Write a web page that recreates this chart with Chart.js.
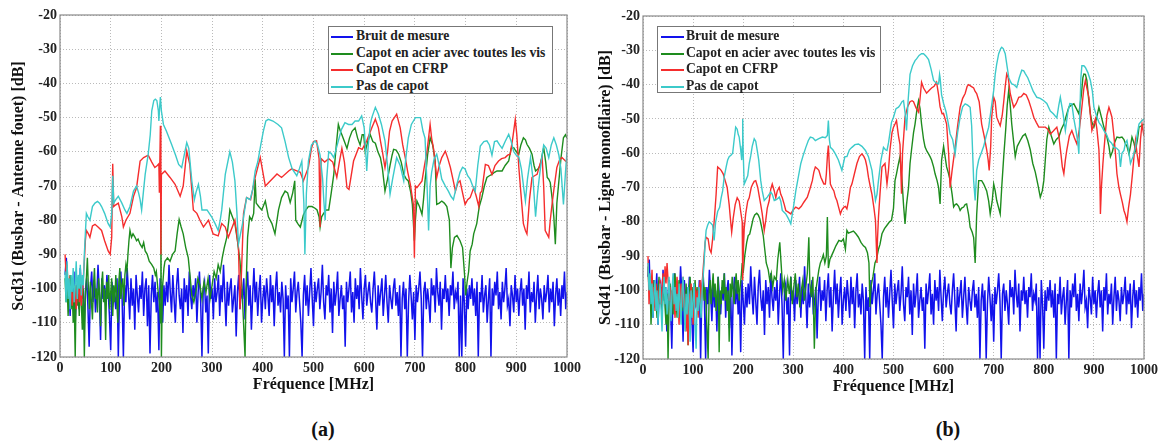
<!DOCTYPE html>
<html>
<head>
<meta charset="utf-8">
<script src="https://cdn.jsdelivr.net/npm/chart.js@4.4.1/dist/chart.umd.min.js"></script>
<style>
  body { margin: 0; background: #fff; width: 1166px; height: 441px; position: relative; overflow: hidden; }
  canvas { position: absolute; top: 0; }
  #graphA { left: 0; }
  #graphB { left: 585px; }
  .legende {
    position: absolute; background: #fff; border: 1px solid #777;
    font: bold 13.6px "Liberation Serif", "DejaVu Serif", serif; color: #222;
    box-sizing: border-box; padding-top: 1px;
  }
  .legende div { height: 16.6px; line-height: 16.6px; white-space: nowrap; position: relative; padding-left: 27px; }
  .legende span { position: absolute; left: 2px; top: 8px; width: 22px; height: 2px; }
  .legende-b div { padding-left: 28px; }
  .legende-b span { left: 3px; width: 23px; }
  .sous-titre { position: absolute; top: 418px; font: bold 20px "Liberation Serif", serif; color: #111; transform: translateX(-50%); }
</style>
</head>
<body>
<canvas id="graphA" width="585" height="400"></canvas>
<canvas id="graphB" width="577" height="400"></canvas>
<div class="legende" id="legendeA" style="left:328px; top:26px; width:225px; height:68px;"></div>
<div class="legende legende-b" id="legendeB" style="left:657px; top:26px; width:224px; height:67px;"></div>
<div class="sous-titre" style="left:323px;">(a)</div>
<div class="sous-titre" style="left:948px;">(b)</div>
<script>
// noms des courbes
const nomsSeries = ['Bruit de mesure', 'Capot en acier avec toutes les vis', 'Capot en CFRP', 'Pas de capot'];
const couleurs = ['#1212ec', '#1e8c1e', '#f52d2d', '#3ccaca'];

// bruit de mesure (même mesure pour les deux graphes), pas de 2.5 MHz à partir de 10 MHz
const bruitDebut = 10;
const bruitPas = 2.5;
const bruit = [
  -96,-91,-104,-99,-108,-97,-102,-95,-110,-100,-98,-106,-94,-103,-99,-112,-101,-97,-105,-117,
  -100,-95,-104,-98,-107,-102,-93,-101,-115,-97,-103,-99,-105,-96,-101,-108,-118,-98,-104,-102,
  -106,-97,-120,-100,-95,-103,-120,-99,-104,-94,-101,-109,-97,-105,-100,-112,-96,-102,-107,-99,
  -103,-95,-108,-100,-97,-111,-99,-119,-102,-96,-104,-98,-107,-101,-118,-97,-103,-110,-99,-105,
  -98,-104,-93,-101,-107,-96,-103,-110,-99,-94,-102,-106,-100,-113,-97,-104,-99,-108,-95,-102,
  -106,-99,-103,-97,-110,-101,-95,-104,-120,-100,-98,-107,-102,-119,-96,-103,-100,-109,-97,-104,
  -101,-96,-108,-99,-104,-93,-102,-111,-98,-105,-100,-97,-107,-103,-99,-114,-101,-96,-106,-100,
  -103,-97,-109,-100,-95,-105,-99,-112,-102,-94,-104,-98,-108,-101,-96,-110,-103,-99,-106,-97,
  -102,-108,-96,-104,-99,-111,-100,-95,-105,-101,-107,-98,-103,-120,-99,-106,-102,-120,-97,-104,
  -100,-95,-107,-101,-98,-104,-110,-120,-102,-96,-105,-99,-108,-101,-94,-103,-111,-98,-104,-100,
  -97,-106,-101,-93,-104,-109,-99,-102,-96,-107,-100,-113,-98,-105,-101,-95,-108,-103,-99,-106,
  -102,-117,-98,-104,-100,-95,-107,-101,-110,-97,-103,-99,-106,-94,-102,-109,-100,-96,-105,-101,
  -98,-104,-107,-100,-95,-103,-112,-99,-105,-101,-97,-108,-102,-96,-104,-110,-99,-103,-106,-100,
  -97,-105,-101,-108,-99,-120,-103,-98,-106,-100,-120,-104,-96,-102,-109,-101,-115,-99,-104,-100,
  -95,-103,-120,-101,-98,-106,-100,-104,-110,-97,-102,-99,-107,-94,-101,-105,-98,-112,-100,-103,
  -96,-104,-100,-108,-99,-102,-95,-106,-101,-103,-98,-120,-102,-120,-97,-104,-117,-100,-106,-99,
  -103,-97,-105,-100,-108,-98,-120,-101,-104,-96,-107,-102,-99,-110,-103,-97,-120,-100,-105,-98,
  -102,-95,-106,-101,-109,-98,-104,-100,-94,-105,-103,-111,-99,-102,-107,-96,-104,-100,-108,-101,
  -97,-105,-100,-112,-99,-103,-95,-107,-101,-104,-98,-110,-102,-96,-106,-100,-103,-109,-99,-104,
  -101,-96,-107,-100,-104,-98,-111,-102,-97,-105,-100,-108,-99,-103,-95,-106,-101
];

// (a) Scd31 - [fréquence MHz, dB]
const acierA = [
  [10,-97],[12,-104],[14,-99],[16,-108],[18,-101],[20,-96],[22,-106],[24,-100],[26,-110],[28,-103],[30,-120],[32,-99],[34,-105],[36,-101],[38,-108],[40,-98],[42,-104],[44,-112],[46,-100],[48,-120],
  [50,-103],[52,-97],[54,-91],[56,-100],[58,-106],[60,-98],[62,-104],[64,-109],[66,-99],[68,-94],[70,-103],[72,-100],[74,-107],[76,-97],[78,-102],[80,-111],[82,-99],[84,-95],[86,-104],[88,-100],
  [90,-115],[92,-98],[94,-103],[96,-96],[98,-106],[100,-101],[102,-97],[104,-108],[106,-99],[108,-104],[110,-96],[112,-102],[114,-110],[116,-98],[118,-94],[120,-103],[122,-99],[124,-97],[126,-105],[128,-96],
  [130,-93],[132,-95],[134,-90],[136,-86],[138,-83],[141,-85],[144,-84],[148,-85],[151,-86],[154,-85.5],[158,-87],[162,-88],[165,-86.5],[168,-89],[172,-90],[176,-92],[181,-93],[185,-94],[188,-96],[190,-95],
  [193,-100],[196,-104],[198,-110],[199,-75],[200,-120],[202,-100],[205,-94],[207,-92],[212,-91],[217,-92],[222,-90],[227,-89],[231,-84],[235,-79.8],[239,-82],[243,-84],[248,-88],[253,-91],[257,-97],[260,-102],
  [264,-104],[268,-101],[272,-97],[276,-99],[280,-103],[284,-98],[288,-101],[292,-97],[296,-103],[300,-99],[304,-95],[308,-97],[312,-93],[316,-95],[320,-91],[324,-88],[329,-85],[333,-80],[335,-77],[340,-79],
  [345,-81],[350,-86],[355,-92],[359,-100],[362,-110],[365,-120],[367,-100],[370,-85],[374,-79],[378,-80],[382,-78],[385,-68],[387,-75],[392,-76],[398,-77],[405,-74.4],[411,-79],[418,-81],[424,-84],[431,-77],
  [437,-73.4],[444,-71.5],[449,-72],[454,-74.8],[459,-72],[463,-68.5],[465,-80],[469,-81],[474,-82],[480,-78.5],[485,-77],[490,-76],[497,-76],[503,-76.5],[507,-77],[511,-79],[513,-82],[516,-79],[520,-78],[525,-77],
  [530,-77],[535,-72],[540,-66.6],[545,-58],[549,-52],[553,-54],[556,-55],[561,-57],[566,-59],[571,-56],[576,-54],[582,-53],[587,-56],[592,-58],[596,-55],[599,-55],[602,-60],[607,-57],[612,-55],[617,-57],
  [622,-57.5],[627,-60],[632,-61.7],[636,-65],[641,-71.5],[646,-68],[651,-64],[655,-61],[658,-59.3],[663,-59.5],[668,-60.7],[673,-63],[678,-66.6],[683,-68],[687,-68.5],[692,-72],[695,-75.4],[699,-86],[701,-80],[704,-74.4],
  [709,-76],[714,-78.3],[717,-74],[720,-68.5],[725,-61],[730,-55.9],[735,-58],[740,-62.7],[743,-75.4],[748,-75],[753,-74.4],[758,-75],[763,-76],[768,-80],[771,-94],[774,-88],[778,-85],[783,-84.5],[789,-86],[794,-88],
  [798,-96],[800,-102],[803,-98],[806,-95],[809,-89],[813,-87],[816,-84],[822,-81],[827,-76],[832,-73.4],[837,-70],[842,-67.5],[847,-67],[852,-66.6],[857,-66],[862,-65.6],[867,-65.6],[872,-65.6],[878,-64],[885,-62.7],
  [890,-59],[895,-58.8],[900,-60],[905,-60.7],[909,-58],[914,-55.9],[918,-56.5],[921,-57.8],[926,-59],[931,-60.7],[935,-64],[938,-65.6],[943,-65],[947,-64],[951,-61],[954,-58.8],[958,-63],[961,-67.5],[964,-68],[967,-69],
  [971,-74],[974,-79],[977,-87],[980,-75],[984,-68.5],[988,-62],[993,-55.9],[997,-55],[1000,-56]
];
const cfrpA = [
  [10,-90],[12,-96],[14,-93],[16,-100],[18,-98],[20,-103],[22,-99],[24,-105],[26,-101],[28,-104],[30,-99],[32,-106],[34,-102],[36,-98],[38,-104],[40,-100],[42,-105],[44,-101],[46,-97],[48,-92],
  [50,-86],[52,-83],[56,-84],[59,-85],[64,-81.7],[69,-81.2],[75,-82],[82,-83],[88,-86],[95,-89],[99,-90],[102,-85],[104,-63.5],[106,-76],[110,-75.5],[115,-75],[122,-79],[125,-82],[130,-80],[138,-78],
  [145,-73],[151,-70.5],[158,-62.7],[165,-61.7],[174,-61],[181,-63],[187,-64.6],[192,-64],[195,-63.5],[196,-72],[198,-52.4],[199,-90],[200,-66.6],[207,-65.6],[217,-67.5],[227,-69.5],[237,-73],[243,-70],[250,-59.8],[256,-63.7],
  [263,-77],[270,-78],[276,-80],[283,-82],[293,-80],[302,-84],[312,-84.6],[319,-81],[326,-82],[332,-85],[345,-80],[352,-88],[355,-106],[358,-95],[362,-78],[368,-73.4],[376,-74],[385,-67.5],[395,-61.7],[405,-70],
  [418,-68],[428,-66.5],[437,-67.5],[451,-65.6],[457,-65],[467,-65.6],[474,-66],[480,-68.5],[490,-64.5],[496,-59],[500,-57],[506,-56.8],[511,-62],[513,-82],[515,-62],[522,-63],[530,-62],[538,-63],[546,-67.5],[551,-63],
  [556,-59],[561,-63],[566,-70.5],[570,-71],[579,-62.7],[589,-58.8],[596,-59.3],[605,-56.8],[615,-53],[622,-50.5],[628,-53],[632,-56.8],[636,-60],[641,-64.6],[646,-60],[650,-54],[655,-51],[664,-49],[671,-53],[676,-58],
  [681,-61.7],[686,-66],[691,-69.5],[697,-75.4],[699,-91],[701,-70],[704,-70.5],[714,-68.5],[719,-64],[724,-59.8],[730,-52],[733,-56],[737,-59.3],[743,-67.5],[748,-64],[753,-61.7],[760,-59.8],[765,-62],[770,-64.6],[775,-68],
  [780,-71.5],[785,-69],[789,-68.5],[794,-72],[799,-75.4],[804,-74],[809,-73.4],[816,-70.5],[821,-73],[826,-76],[829,-72],[832,-71.5],[839,-63.7],[845,-64],[852,-66.6],[858,-64],[865,-62.7],[871,-62],[878,-61.7],[883,-61],
  [888,-60.7],[893,-56],[898,-50.5],[901,-55],[905,-64.6],[909,-72],[914,-81],[918,-83],[921,-84],[926,-74],[931,-67.5],[936,-67],[941,-66.6],[946,-64],[951,-61.7],[954,-70],[957,-83],[964,-85],[967,-80],[970,-76],
  [975,-70],[980,-64.6],[985,-62.5],[990,-61.7],[997,-62.7],[1000,-63]
];
const sansCapotA = [
  [10,-95],[12,-104],[14,-92],[16,-103],[18,-97],[20,-106],[22,-96],[24,-101],[26,-94],[28,-104],[30,-99],[32,-92],[34,-103],[36,-96],[38,-100],[40,-93],[42,-102],[44,-96],[46,-99],[48,-90],
  [50,-84],[52,-78],[55,-79],[59,-80],[64,-76],[69,-75],[74,-74.5],[78,-75],[82,-76],[88,-78],[95,-81],[99,-82],[102,-78],[104,-67],[106,-75],[110,-74],[115,-73],[122,-75],[128,-77],[132,-78],
  [138,-76],[145,-71.5],[151,-70],[155,-72],[158,-74],[161,-77],[165,-71],[168,-66.6],[174,-60.7],[178,-55],[181,-48],[185,-45],[188,-44.6],[191,-45],[194,-48],[195,-51],[197,-46],[198,-44],[200,-48],[204,-52],
  [210,-54],[220,-57.8],[228,-61],[234,-63.7],[240,-64.6],[245,-61],[250,-57.3],[254,-59],[260,-68.5],[265,-74],[268,-72],[273,-69.5],[277,-73],[280,-77],[290,-77],[299,-79],[306,-81],[312,-83],[316,-80],[319,-77],
  [326,-66.6],[335,-60],[340,-63],[345,-68.5],[349,-78],[352,-87],[356,-84],[360,-81],[368,-73.4],[375,-74],[380,-71],[385,-65.6],[390,-63],[396,-58],[401,-54],[406,-51],[411,-50.5],[420,-51],[430,-52],[437,-53],
  [444,-57],[451,-61.7],[458,-65],[467,-67],[472,-65],[477,-62.7],[481,-75],[483,-90],[486,-72],[490,-62.7],[496,-58],[503,-56.8],[508,-58],[513,-61],[518,-68],[520,-73.4],[523,-80],[526,-68],[530,-60],[535,-60.5],
  [540,-61.7],[545,-59],[549,-56.8],[555,-53.5],[562,-51.5],[569,-52],[576,-52],[582,-51],[589,-51],[595,-49.5],[600,-53],[603,-60],[605,-65.6],[608,-58],[612,-52],[615,-50],[622,-47],[628,-49],[634,-52],[641,-56.8],
  [646,-64],[651,-72.4],[656,-68],[664,-61.7],[671,-64],[678,-68.5],[682,-62],[687,-55.9],[693,-52],[701,-50],[711,-50],[716,-54],[720,-56],[724,-70],[727,-83],[730,-70],[733,-66],[738,-62],[743,-60.7],[748,-64],
  [753,-68],[760,-70],[766,-71.5],[771,-73],[776,-74],[782,-70],[789,-66],[794,-64.5],[799,-65],[804,-67],[809,-68],[814,-70],[819,-71.5],[824,-64],[829,-58.3],[836,-57],[842,-56.8],[847,-58],[852,-61],[857,-57],
  [862,-56.8],[867,-58],[872,-59],[878,-57],[885,-54.9],[890,-57],[895,-60],[900,-61],[905,-61.5],[910,-65],[915,-71],[918,-74.4],[922,-68],[928,-61.7],[933,-68],[938,-79],[942,-72],[945,-68],[950,-62],[954,-58],
  [959,-59],[964,-61.7],[969,-58],[974,-55.9],[979,-58],[984,-61],[988,-65],[993,-75.4],[997,-66],[1000,-60]
];

// (b) Scd41 - [fréquence MHz, dB]
const acierB = [
  [10,-93],[12,-100],[14,-96],[16,-110],[18,-101],[20,-97],[22,-105],[24,-99],[26,-103],[28,-108],[30,-100],[32,-96],[34,-104],[36,-99],[38,-106],[40,-102],[42,-97],[44,-105],[46,-110],[48,-101],
  [50,-120],[52,-104],[54,-98],[56,-103],[58,-100],[60,-107],[62,-99],[64,-95],[66,-102],[68,-108],[70,-101],[72,-97],[74,-104],[76,-100],[78,-106],[80,-99],[82,-103],[84,-110],[86,-98],[88,-104],
  [90,-116],[92,-100],[94,-96],[96,-103],[98,-99],[100,-106],[102,-101],[104,-97],[106,-104],[108,-99],[110,-107],[112,-102],[114,-98],[116,-104],[118,-100],[120,-96],[122,-103],[124,-99],[126,-105],[128,-112],
  [130,-120],[132,-101],[134,-97],[136,-104],[138,-99],[140,-95],[142,-102],[144,-98],[146,-106],[148,-101],[150,-96],[152,-118],[154,-100],[156,-104],[158,-97],[160,-101],[162,-95],[164,-103],[166,-99],[168,-106],
  [170,-100],[172,-115],[174,-98],[176,-102],[178,-96],[180,-100],[182,-104],[184,-98],[186,-95],[188,-101],[190,-97],[192,-103],[194,-99],[196,-96],[198,-92],[200,-95],[203,-90],[207,-86],[210,-84],[213,-83.6],
  [217,-81],[220,-79],[223,-78],[227,-77.5],[230,-78],[233,-79],[236,-81],[240,-84],[243,-88],[246,-92],[250,-94],[253,-97],[256,-95],[259,-99],[262,-96],[266,-97],[269,-91],[273,-86],[276,-93],[279,-100],
  [282,-97],[285,-103],[289,-97],[292,-101],[295,-96],[298,-104],[301,-99],[304,-95],[307,-102],[310,-98],[313,-105],[316,-100],[319,-97],[322,-103],[325,-99],[328,-95],[331,-84.5],[333,-98],[336,-102],[339,-96],
  [342,-117],[345,-100],[348,-97],[351,-94],[354,-92],[357,-91],[360,-89.6],[363,-92],[366,-90],[368,-78.6],[370,-93.5],[373,-91],[376,-90],[380,-88.7],[385,-87],[391,-85.4],[396,-85.7],[400,-85],[404,-88],[407,-82.5],
  [410,-83.3],[415,-83],[420,-82.7],[425,-83.5],[430,-84.5],[435,-86],[440,-87],[444,-87.5],[448,-89],[451,-92],[453,-104.8],[455,-99],[459,-96],[463,-92],[466,-91],[470,-88],[473,-86.6],[477,-83.5],[482,-82],[487,-81],
  [492,-80],[496,-79.6],[500,-76],[503,-68],[506,-66],[510,-63],[513,-61],[517,-68],[520,-75],[523,-80.6],[526,-75],[530,-70],[533,-63],[536,-59],[540,-54],[543,-51.5],[547,-47],[550,-44.7],[553,-47],[556,-51.5],
  [560,-56],[563,-58.2],[567,-59.5],[570,-60.2],[573,-61],[576,-62],[580,-64],[583,-66],[587,-68],[590,-70],[593,-74.8],[596,-62],[600,-58],[603,-61],[606,-64],[610,-66],[613,-68],[617,-72],[620,-75.7],[623,-75],
  [626,-74.8],[630,-75.5],[633,-76.7],[636,-76],[640,-75.7],[643,-75],[646,-74.8],[650,-78],[653,-81.6],[657,-83],[660,-84.6],[663,-92],[666,-78],[670,-68],[673,-68],[676,-68],[680,-69],[686,-71],[690,-74],[693,-77.7],
  [697,-74],[700,-69],[703,-71],[706,-73.8],[710,-76],[713,-77.7],[716,-70],[720,-61],[724,-53],[727,-46],[730,-41.7],[733,-46],[736,-51.5],[740,-57],[743,-61],[747,-58],[753,-56.3],[758,-55],[763,-54.4],[768,-56.3],
  [773,-59],[778,-63],[783,-65.5],[788,-69],[793,-72.8],[797,-71],[800,-68],[803,-62],[806,-56],[810,-52.4],[815,-55],[820,-57.3],[825,-56],[830,-55.3],[835,-53],[840,-51.5],[845,-49],[850,-46.6],[855,-46],[860,-45.6],
  [865,-47],[870,-48.5],[875,-43],[878,-38],[880,-36.9],[883,-37],[886,-38.8],[890,-45],[893,-48.5],[896,-51],[900,-52.4],[905,-50],[910,-46.6],[915,-49.5],[920,-52.4],[923,-54],[926,-55.3],[930,-58],[933,-61],[937,-59.5],
  [941,-57],[946,-55.3],[951,-55.5],[956,-55.3],[960,-56],[963,-57.3],[966,-58],[970,-60.2],[973,-58],[976,-55.3],[980,-57],[983,-59.2],[987,-56],[990,-52.4],[995,-52],[1000,-51.5]
];
const cfrpB = [
  [10,-90],[12,-104],[14,-96],[16,-100],[18,-94],[20,-103],[22,-99],[24,-106],[26,-98],[28,-102],[30,-108],[32,-100],[34,-97],[36,-104],[38,-99],[40,-95],[42,-101],[44,-93],[46,-98],[48,-92],
  [50,-97],[52,-103],[54,-99],[56,-106],[58,-101],[60,-97],[62,-104],[64,-108],[66,-100],[68,-96],[70,-103],[72,-110],[74,-101],[76,-98],[78,-105],[80,-96],[82,-102],[84,-107],[86,-112],[88,-104],
  [90,-116],[92,-101],[94,-107],[96,-98],[98,-104],[100,-110],[102,-103],[104,-99],[106,-105],[108,-100],[110,-108],[112,-102],[114,-97],[116,-104],[118,-98],[120,-94],[122,-90],[124,-86],[126,-84.5],[130,-85],
  [133,-88],[136,-89],[139,-85],[142,-80],[144,-76],[146,-71.8],[149,-64],[153,-64.5],[156,-65],[160,-66],[164,-68],[168,-70],[172,-75],[175,-80],[177,-83],[180,-79],[184,-75],[188,-73],[192,-74],[195,-77],
  [198,-80],[199,-97],[200,-90],[202,-82],[205,-77.7],[209,-74],[212,-73],[216,-70],[219,-69],[222,-68.2],[225,-68],[229,-70],[232,-72.5],[235,-75],[238,-77.7],[242,-82.5],[245,-79.6],[248,-76],[252,-73.8],[255,-70.5],
  [258,-69],[262,-71],[265,-73],[268,-71],[272,-70],[275,-72],[278,-73],[282,-75],[285,-76.7],[290,-77.2],[295,-77.7],[300,-76.5],[305,-75.7],[311,-76.2],[316,-75.5],[321,-74.3],[328,-72.8],[333,-70.5],[338,-68],[341,-65.5],
  [344,-64],[348,-64.5],[351,-65],[355,-67],[358,-68],[361,-69],[364,-69],[366,-66],[368,-61],[370,-57.8],[372,-64],[374,-69],[377,-70],[381,-71],[384,-72.8],[387,-73.8],[390,-75.5],[394,-77.7],[397,-76.5],[401,-75.7],
  [404,-75.5],[407,-76.2],[410,-74],[414,-70],[417,-69],[422,-66],[427,-63],[432,-61],[437,-60.2],[441,-61],[444,-62],[447,-64],[450,-67],[454,-70],[457,-72],[461,-76],[464,-79.6],[466,-88],[467,-92],[468,-85.4],
  [470,-78.6],[473,-72],[477,-64],[480,-63.5],[483,-63],[485,-66],[487,-69],[490,-65],[493,-59],[497,-54],[500,-52.4],[503,-51.5],[506,-50.5],[510,-55],[513,-57.5],[516,-71.8],[518,-60],[523,-49.5],[528,-46.5],[533,-45],
  [537,-44.7],[540,-45],[545,-46.8],[550,-48],[553,-44],[556,-39.3],[560,-41],[566,-42.5],[571,-41.7],[576,-41],[581,-40.5],[586,-39.3],[590,-43],[593,-46.5],[597,-48.5],[600,-48.5],[603,-50],[606,-51.5],[610,-60],[613,-70],
  [617,-65],[623,-58.3],[628,-52],[633,-46.6],[638,-44],[643,-42.6],[647,-40.5],[650,-40],[655,-40.5],[660,-41],[663,-42],[666,-42.6],[671,-45],[676,-51.5],[681,-55],[686,-59],[689,-62],[691,-65],[694,-58],[696,-49.5],
  [700,-43.7],[703,-45],[706,-49.5],[710,-51],[713,-52],[717,-49],[720,-45],[723,-40.5],[726,-36.9],[729,-38],[733,-42.6],[737,-45],[740,-46.6],[745,-45.5],[750,-43.7],[755,-43.5],[760,-42.6],[765,-43],[770,-44.7],[775,-47],
  [780,-49.5],[785,-51],[790,-52.4],[796,-52.4],[803,-52.4],[808,-53],[813,-54.4],[819,-53.5],[826,-52.4],[830,-55],[834,-60],[837,-64],[840,-66],[843,-62],[846,-59],[851,-55],[856,-53.4],[861,-55.5],[866,-57.3],[871,-53],
  [876,-46.6],[880,-41],[883,-38.8],[886,-41],[890,-43.7],[893,-49],[896,-53.4],[900,-51.5],[903,-50],[906,-53],[910,-59],[912,-68],[913,-77.7],[915,-70],[918,-63],[920,-59.2],[923,-54],[926,-49],[930,-46.6],[933,-48],
  [936,-49.5],[940,-55],[943,-60],[946,-66],[950,-70],[953,-72],[957,-74.5],[960,-76.7],[963,-78],[966,-80],[969,-76],[973,-72],[977,-66],[980,-61],[983,-56.3],[986,-60],[990,-64],[993,-56],[996,-51.5],[1000,-55]
];
const sansCapotB = [
  [10,-92],[12,-100],[14,-95],[16,-104],[18,-98],[20,-108],[22,-101],[24,-97],[26,-106],[28,-100],[30,-110],[32,-103],[34,-98],[36,-105],[38,-112],[40,-101],[42,-96],[44,-104],[46,-99],[48,-107],
  [50,-102],[52,-96],[54,-103],[56,-109],[58,-100],[60,-95],[62,-104],[64,-99],[66,-106],[68,-101],[70,-108],[72,-98],[74,-103],[76,-110],[78,-100],[80,-96],[82,-105],[84,-112],[86,-101],[88,-107],
  [90,-99],[92,-104],[94,-115],[96,-100],[98,-108],[100,-103],[102,-98],[104,-110],[106,-117],[108,-102],[110,-106],[112,-99],[114,-104],[116,-108],[118,-100],[120,-96],[122,-92],[124,-86],[126,-82.5],[129,-81],
  [132,-80],[136,-80.5],[139,-81],[142,-85.4],[145,-80],[149,-77],[153,-75.8],[156,-73],[159,-71],[162,-67],[166,-64],[169,-62],[172,-61],[176,-60.5],[179,-60],[182,-56],[185,-52.4],[188,-53],[190,-54.5],[192,-55.3],
  [195,-59],[197,-62],[198,-58],[199,-50],[200,-60],[202,-69],[205,-68],[209,-66.6],[212,-63],[215,-60.8],[218,-58],[222,-55.8],[225,-56.5],[228,-59.2],[231,-62],[235,-68],[238,-71],[242,-73.8],[248,-72.8],[255,-71.3],
  [258,-72],[262,-73.8],[267,-73.5],[272,-72.8],[275,-74],[278,-76.7],[285,-77.7],[290,-79],[295,-80.6],[300,-76],[305,-71],[310,-67],[315,-63],[320,-60.5],[325,-58.3],[330,-56.3],[334,-55.3],[339,-55.5],[344,-56.3],[350,-55.8],
  [358,-55.3],[364,-55.5],[368,-54.8],[370,-50.5],[372,-56],[374,-58.3],[379,-59],[384,-60.2],[390,-62],[397,-65],[400,-63],[403,-61],[407,-61],[412,-59],[417,-58.3],[423,-57.5],[430,-57.3],[437,-58],[444,-59.2],[450,-61],
  [457,-65],[461,-70],[464,-73.8],[467,-72],[470,-68],[475,-62],[480,-58.3],[484,-59],[487,-59.2],[490,-57],[493,-54],[496,-51],[500,-49.5],[505,-47],[510,-46.6],[513,-46],[517,-45],[520,-44.7],[523,-48],[526,-53.4],
  [529,-45],[533,-37],[538,-34.5],[543,-33],[546,-32.5],[551,-31.5],[556,-31],[560,-31],[565,-31.7],[570,-32.7],[575,-35.5],[580,-38.8],[585,-39.5],[590,-39.8],[592,-37],[593,-38],[596,-43],[600,-45.5],[605,-48],[609,-51],
  [613,-54.4],[618,-56],[623,-60.2],[628,-54],[633,-49.5],[638,-46.5],[643,-45.6],[648,-46],[653,-46.6],[656,-52],[660,-68],[663,-73.8],[666,-65],[670,-62],[675,-60],[680,-58],[685,-55],[690,-52.4],[695,-47],[700,-41.7],
  [703,-37],[706,-34],[710,-31],[714,-29.5],[716,-29.1],[719,-29.5],[723,-31],[727,-35],[730,-37.9],[733,-39],[736,-39.8],[740,-40],[746,-40.8],[751,-38],[756,-35.8],[760,-36],[763,-36.8],[768,-38],[773,-39.8],[779,-42],
  [786,-43.7],[793,-44],[800,-44.7],[806,-45.5],[813,-47.7],[819,-48.5],[826,-49.7],[830,-46],[833,-43.7],[838,-48],[843,-53.4],[848,-48],[852,-45.5],[856,-45.6],[860,-50],[865,-54],[868,-57],[870,-60.2],[872,-48],[874,-38],
  [876,-34.5],[880,-34.5],[883,-35],[888,-36.5],[893,-38.8],[897,-42],[900,-46.6],[905,-49],[910,-51],[915,-52],[920,-53.4],[925,-54.5],[930,-56.3],[935,-57],[940,-58.3],[945,-58.5],[950,-59.2],[953,-64],[956,-60],[960,-59.2],
  [963,-57],[966,-56.3],[970,-60],[973,-63],[978,-61],[983,-58.3],[987,-54],[990,-51.5],[993,-51],[996,-50.5],[1000,-50]
];

const policeTicks = { family: '"Liberation Serif", serif', size: 14, weight: 'bold' };
const policeTitre = { family: '"Liberation Serif", serif', size: 16, weight: 'bold' };

// cadre gris autour de la zone de tracé
const cadre = {
  id: 'cadre',
  afterDraw(chart) {
    const a = chart.chartArea;
    const ctx = chart.ctx;
    ctx.save();
    ctx.strokeStyle = '#8a8a8a';
    ctx.lineWidth = 1.2;
    ctx.strokeRect(a.left, a.top, a.right - a.left, a.bottom - a.top);
    ctx.restore();
  }
};

function versPoints(paires) {
  return paires.map(p => ({ x: p[0], y: p[1] }));
}

function pointsBruit() {
  return bruit.map((v, i) => ({ x: bruitDebut + i * bruitPas, y: v }));
}

function creerGraphe(canvasId, series, titreY, largeurY, padding, titrePadY) {
  const ctx = document.getElementById(canvasId).getContext('2d');
  const jeux = series.map((s, i) => ({
    label: nomsSeries[i],
    data: s,
    borderColor: couleurs[i],
    backgroundColor: couleurs[i],
    borderWidth: i === 0 ? 1.5 : 1.4,
    pointRadius: 0,
    tension: 0,
    fill: false,
    order: 4 - i
  }));

  return new Chart(ctx, {
    type: 'line',
    data: { datasets: jeux },
    options: {
      responsive: false,
      animation: false,
      layout: { padding: padding },
      plugins: { legend: { display: false }, tooltip: { enabled: false } },
      scales: {
        x: {
          type: 'linear', min: 0, max: 1000,
          ticks: { stepSize: 100, color: '#222', font: policeTicks, padding: 3, maxRotation: 0, callback: v => String(v) },
          grid: { color: '#a8a8a8', drawTicks: false, lineWidth: 0.8 },
          border: { display: false, dash: [1, 2] },
          title: { display: true, text: 'Fréquence [MHz]', color: '#111', font: policeTitre, padding: { top: 0, bottom: 1 } },
          afterFit: s => { s.height = 38; }
        },
        y: {
          min: -120, max: -20,
          ticks: { stepSize: 10, color: '#222', font: policeTicks, padding: 3, callback: v => String(v) },
          grid: { color: '#a8a8a8', drawTicks: false, lineWidth: 0.8 },
          border: { display: false, dash: [1, 2] },
          title: { display: true, text: titreY, color: '#111', font: policeTitre, padding: { top: titrePadY, bottom: 0 } },
          afterFit: s => { s.width = largeurY; }
        }
      }
    },
    plugins: [cadre]
  });
}

function remplirLegende(id) {
  const boite = document.getElementById(id);
  nomsSeries.forEach((nom, i) => {
    const ligne = document.createElement('div');
    ligne.innerHTML = `<span style="background:${couleurs[i]}"></span>${nom}`;
    boite.appendChild(ligne);
  });
}

creerGraphe('graphA',
  [pointsBruit(), versPoints(acierA), versPoints(cfrpA), versPoints(sansCapotA)],
  'Scd31 (Busbar - Antenne fouet) [dB]', 60,
  { left: 0, right: 18, top: 15, bottom: 5 }, 9);

creerGraphe('graphB',
  [pointsBruit(), versPoints(acierB), versPoints(cfrpB), versPoints(sansCapotB)],
  'Scd41 (Busbar - Ligne monofilaire) [dB]', 58,
  { left: 0, right: 18, top: 16, bottom: 3 }, 11);

remplirLegende('legendeA');
remplirLegende('legendeB');
</script>
</body>
</html>
